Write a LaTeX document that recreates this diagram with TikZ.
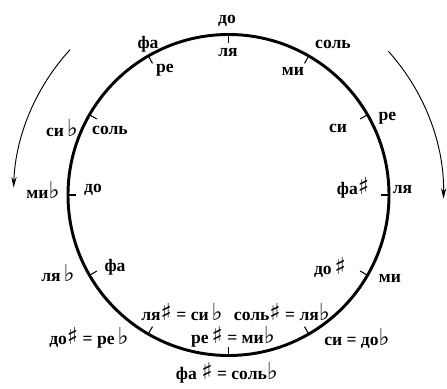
\documentclass[tikz,border=0pt]{standalone}
\usepackage{fontspec}
\setmainfont{Liberation Serif}
\newfontfamily\symfont{DejaVu Sans}
\usepackage{tikz}
\usetikzlibrary{arrows.meta, positioning}
\newcommand{\shp}{{\symfont\fontsize{20}{20}\selectfont ♯}}
\newcommand{\flt}{{\symfont\bfseries\fontsize{20}{20}\selectfont ♭}}
\tikzset{
  wheel/.style={line width=2.5pt, color=black},
  notch/.style={line width=0.9pt, color=black},
  key/.style={font=\fontsize{15}{17}\selectfont\bfseries, inner sep=0pt},
  turn/.style={-{Stealth[length=9pt, width=4.5pt]}, line width=0.8pt, color=black}
}

\begin{document}
\begin{tikzpicture}[x=0.03cm, y=0.03cm]
  \useasboundingbox (-228.5,-193) rectangle (218.5,195);
  % circle of keys
  \draw[wheel] (0,0) circle (160.5);
  \foreach \i in {0,...,11} {
    \coordinate (T\i) at ({90-30*\i}:160.5);
    \coordinate (U\i) at ({90-30*\i}:152);
    \draw[notch] (T\i) -- (U\i);
  }
  % major keys, outside
  \node[key] (mdo)   at (-1.5,174)   {до};
  \node[key] (msol)  at (104.5,151)  {соль};
  \node[key] (mre)   at (159,77)     {ре};
  \node[key] (mlya)  at (174,5)      {ля};
  \node[key] (mmi)   at (161.5,-83)  {ми};
  \node[key] (msi)   at (128.5,-143) {си = до\flt};
  \node[key] (mfas)  at (-1.5,-178)  {фа \shp\ = соль\flt};
  \node[key] (mdos)  at (-139.5,-143) {до\shp\ = ре\,\flt};
  \node[key] (mlyab) at (-170.5,-78) {ля\,\flt};
  \node[key] (mmib)  at (-185.5,5)   {ми\flt};
  \node[key] (msib)  at (-166.5,67)  {си\,\flt};
  \node[key] (mfa)   at (-80.5,151)  {фа};
  % minor keys, inside
  \node[key] (nlya)  at (-0.5,142)   {ля};
  \node[key] (nmi)   at (64.5,124)   {ми};
  \node[key] (nsi)   at (109.5,67)   {си};
  \node[key] (nfas)  at (124.5,7)    {фа\shp};
  \node[key] (ndos)  at (101.5,-72)  {до\,\shp};
  \node[key] (nsols) at (53.5,-117)  {соль\shp\ = ля\flt};
  \node[key] (nres)  at (4.5,-142)   {ре\,\shp\ = ми\flt};
  \node[key] (nlyas) at (-46.5,-117) {ля\shp\ = си\,\flt};
  \node[key] (nfa)   at (-113.5,-72) {фа};
  \node[key] (ndo)   at (-135.5,5)   {до};
  \node[key] (nsol)  at (-118.5,65)  {соль};
  \node[key] (nre)   at (-63.5,125)  {ре};
  % directions round the circle
  \coordinate (L0) at (137.5:215);
  \coordinate (R0) at (42:215);
  \draw[turn] (L0) arc[start angle=137.5, end angle=178, radius=215];
  \draw[turn] (R0) arc[start angle=42, end angle=-1, radius=215];
\end{tikzpicture}
\end{document}
